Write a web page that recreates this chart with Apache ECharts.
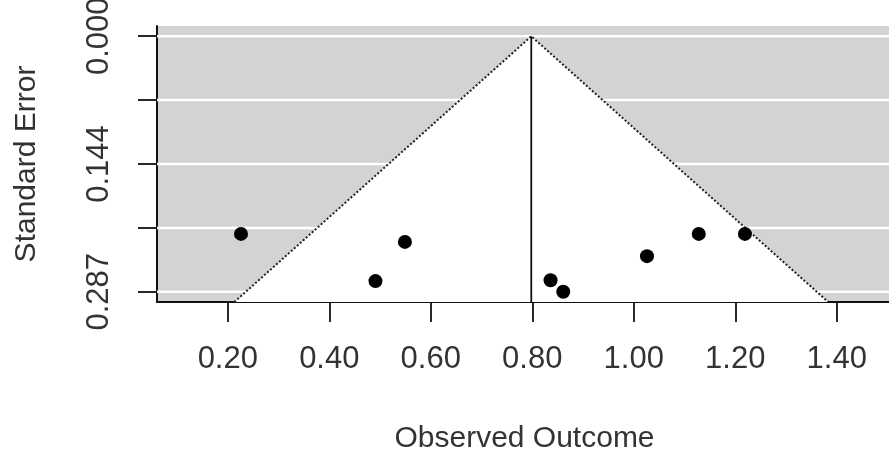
<!DOCTYPE html>
<html>
<head>
<meta charset="utf-8">
<script src="https://cdn.jsdelivr.net/npm/echarts@6/dist/echarts.min.js"></script>
<style>html,body{margin:0;padding:0;background:#fff}#c{width:889px;height:455px}</style>
</head>
<body>
<div id="c"></div>
<script>
// Data
var estimate = 0.798;
var yi  = [0.226, 0.491, 0.549, 0.836, 0.861, 1.026, 1.128, 1.219];
var sei = [0.222, 0.275, 0.231, 0.274, 0.287, 0.247, 0.222, 0.222];
var xTicks = [0.20, 0.40, 0.60, 0.80, 1.00, 1.20, 1.40];
var xTickLabels = ['0.20', '0.40', '0.60', '0.80', '1.00', '1.20', '1.40'];
var yTicks = [0, 0.07175, 0.1435, 0.21525, 0.287];
var yLabelTicks = [0, 0.1435, 0.287];
var yTickLabels = ['0.000', '0.144', '0.287'];
var seMax = 0.287;

var yMin = -seMax * 0.04, yMax = seMax * 1.04;
var xMin = 0.0605, xMax = 1.5088;
var FONT = 'Liberation Sans, Arial, sans-serif';
var TXT = '#333';

var pts = yi.map(function (v, i) { return [v, sei[i]]; });
var lb = estimate - 1.96 * yMax, ub = estimate + 1.96 * yMax;
var funnel = [[lb, yMax], [estimate, 0], [ub, yMax]];

function nearestLabel(v, ticks, labels) {
  var best = 0;
  for (var i = 0; i < ticks.length; i++) if (Math.abs(ticks[i] - v) < Math.abs(ticks[best] - v)) best = i;
  return labels[best];
}

var chart = echarts.init(document.getElementById('c'), null, {renderer: 'canvas'});
chart.setOption({
  animation: false,
  grid: {left: 157, top: 26, right: -3, bottom: 153, containLabel: false, outerBoundsMode: 'none',
    show: true, backgroundColor: '#d3d3d3', borderWidth: 0},
  xAxis: {
    type: 'value', min: xMin, max: xMax,
    name: 'Observed Outcome', nameLocation: 'middle', nameGap: 122,
    nameTextStyle: {fontFamily: FONT, fontSize: 30, color: TXT},
    axisLine: {show: true, onZero: false, lineStyle: {color: '#111', width: 2}},
    axisTick: {show: true, length: 20, lineStyle: {color: '#111', width: 1.8}, customValues: xTicks},
    axisLabel: {show: true, margin: 42, fontFamily: FONT, fontSize: 31, color: TXT, customValues: xTicks,
      hideOverlap: false, showMinLabel: true, showMaxLabel: true,
      formatter: function (v) { return nearestLabel(v, xTicks, xTickLabels); }},
    splitLine: {show: false}
  },
  yAxis: {
    type: 'value', inverse: true, min: yMin, max: yMax,
    name: 'Standard Error', nameLocation: 'middle', nameGap: 115, nameRotate: 90,
    nameTextStyle: {fontFamily: FONT, fontSize: 30, color: TXT},
    axisLine: {show: true, lineStyle: {color: '#111', width: 2}},
    axisTick: {show: true, length: 19, lineStyle: {color: '#111', width: 1.8}, customValues: yTicks},
    axisLabel: {show: true, rotate: 90, margin: 42, fontFamily: FONT, fontSize: 31, color: TXT, customValues: yLabelTicks,
      hideOverlap: false, showMinLabel: true, showMaxLabel: true,
      formatter: function (v) { return nearestLabel(v, yLabelTicks, yTickLabels); }},
    splitLine: {show: false}
  },
  series: [
    {
      type: 'custom', z: 1, silent: true,
      data: yTicks.map(function (t) { return [xMin, t]; }),
      renderItem: function (params, api) {
        var cs = params.coordSys;
        var p = api.coord([xMin, api.value(1)]);
        return {type: 'line', shape: {x1: cs.x, y1: p[1], x2: cs.x + cs.width, y2: p[1]},
          style: {stroke: '#fff', lineWidth: 2.5}};
      }
    },
    {
      type: 'custom', z: 2, silent: true,
      data: [0],
      renderItem: function (params, api) {
        var p = funnel.map(function (d) { return api.coord(d); });
        return {type: 'polygon', shape: {points: p}, style: {fill: '#fff', stroke: null}};
      }
    },
    {
      type: 'line', z: 3, silent: true, symbol: 'none', data: funnel,
      lineStyle: {color: '#222', width: 2, type: [2, 2]}
    },
    {
      type: 'line', z: 4, silent: true, symbol: 'none', data: [[estimate, 0], [estimate, yMax]],
      lineStyle: {color: '#111', width: 1.8}
    },
    {
      type: 'scatter', z: 5, data: pts, symbol: 'circle', symbolSize: 14,
      itemStyle: {color: '#000', opacity: 1}
    }
  ]
});
</script>
</body>
</html>
